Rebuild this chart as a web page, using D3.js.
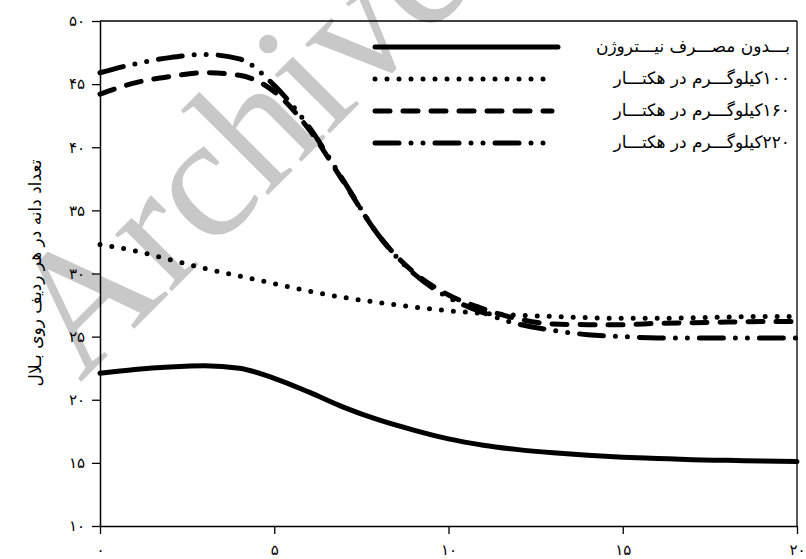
<!DOCTYPE html>
<html>
<head>
<meta charset="utf-8">
<script src="https://cdn.jsdelivr.net/npm/d3@7"></script>
<style>
  html, body { margin: 0; padding: 0; background: #fff; }
  svg { display: block; }
</style>
</head>
<body>
<svg id="chart" width="806" height="559"></svg>
<script>
// ---- data ----
const xValues = [0,1,2,3,4,5,6,7,8,9,10,11,12,13,14,15,16,17,18,19,20];
const seriesNames = [
  "بـــدون مصـــرف نيـــتروژن",
  "۱۰۰کیلوگـــرم در هکتـــار",
  "۱۶۰کیلوگـــرم در هکتـــار",
  "۲۲۰کیلوگـــرم در هکتـــار"
];
const noNitrogen = [22.1,22.4,22.6,22.7,22.5,21.7,20.6,19.4,18.4,17.6,16.9,16.4,16.05,15.8,15.6,15.45,15.35,15.25,15.2,15.15,15.1];
const n100 = [32.3,31.8,31.1,30.4,29.8,29.2,28.6,28.1,27.7,27.35,27.05,26.85,26.7,26.6,26.5,26.45,26.45,26.5,26.55,26.6,26.6];
const n160 = [44.2,45.1,45.6,45.9,45.7,44.4,41.4,37.2,33.0,30.1,28.3,27.2,26.4,26.0,25.95,25.95,26.05,26.1,26.15,26.2,26.2];
const n220 = [45.9,46.6,47.1,47.35,47.0,44.9,41.6,37.3,33.0,30.0,28.1,26.9,26.0,25.5,25.15,25.0,24.9,24.9,24.9,24.9,24.9];
const xTicks = [0,5,10,15,20];
const xTickLabels = ["۰","۵","۱۰","۱۵","۲۰"];
const yTicks = [10,15,20,25,30,35,40,45,50];
const yTickLabels = ["۱۰","۱۵","۲۰","۲۵","۳۰","۳۵","۴۰","۴۵","۵۰"];
const yTitle = "تعداد دانه در هر ردیف روی بـلال";
const watermark = "Archive";

// ---- layout ----
const svg = d3.select("#chart");
const plotLeft = 100, plotRight = 797, plotTop = 21, plotBottom = 526;
const x = d3.scaleLinear().domain([0, 20]).range([plotLeft, plotRight]);
const y = d3.scaleLinear().domain([10, 50]).range([plotBottom, plotTop]);
const persianFont = "'DejaVu Sans', 'Noto Sans', sans-serif";

// watermark (behind everything)
svg.append("text")
  .attr("transform", "translate(80,383) rotate(-45)")
  .attr("font-family", "'Liberation Serif', 'Times New Roman', serif")
  .attr("font-size", 175)
  .attr("fill", "#c8c8c8")
  .text(watermark);

// frame
svg.append("line").attr("x1", plotLeft).attr("x2", plotRight).attr("y1", plotTop).attr("y2", plotTop)
  .attr("stroke", "#000").attr("stroke-width", 1.3);
svg.append("line").attr("x1", plotRight).attr("x2", plotRight).attr("y1", plotTop).attr("y2", plotBottom)
  .attr("stroke", "#000").attr("stroke-width", 1.3);

// axes
const xAxis = d3.axisBottom(x).tickValues(xTicks).tickSize(8).tickSizeOuter(0)
  .tickFormat((d, i) => xTickLabels[i]);
const yAxis = d3.axisLeft(y).tickValues(yTicks).tickSize(8).tickSizeOuter(0)
  .tickFormat((d, i) => yTickLabels[i]);

const gx = svg.append("g").attr("transform", `translate(0,${plotBottom})`).call(xAxis);
const gy = svg.append("g").attr("transform", `translate(${plotLeft},0)`).call(yAxis);
[gx, gy].forEach(g => {
  g.select(".domain").attr("stroke", "#000").attr("stroke-width", 1.5);
  g.selectAll(".tick line").attr("stroke", "#000").attr("stroke-width", 1.3);
  g.selectAll(".tick text").attr("font-family", persianFont).attr("font-size", 15).attr("fill", "#000");
});
gx.selectAll(".tick text").attr("dy", "1.2em");
gy.selectAll(".tick text").attr("x", -15);

// y title
svg.append("text")
  .attr("transform", "translate(36,273) rotate(-90)")
  .attr("text-anchor", "middle")
  .attr("dominant-baseline", "middle")
  .attr("font-family", persianFont)
  .attr("font-size", 17)
  .attr("fill", "#000")
  .text(yTitle);

// series
const styles = [
  { dash: null },
  { dash: "0 12" },
  { dash: "15 13" },
  { dash: "24 12 0 12 0 12" }
];
const allSeries = [noNitrogen, n100, n160, n220];
const line = d3.line().x((d, i) => x(xValues[i])).y(d => y(d)).curve(d3.curveMonotoneX);

allSeries.forEach((s, k) => {
  const p = svg.append("path")
    .datum(s)
    .attr("d", line)
    .attr("fill", "none")
    .attr("stroke", "#000")
    .attr("stroke-width", 5)
    .attr("stroke-linecap", "round")
    .attr("stroke-linejoin", "round");
  if (styles[k].dash) p.attr("stroke-dasharray", styles[k].dash);
});

// legend
const legendY = [47, 79, 111, 143];
seriesNames.forEach((name, k) => {
  const ly = legendY[k];
  const l = svg.append("line")
    .attr("x1", 375).attr("x2", k === 0 ? 558 : 552)
    .attr("y1", ly).attr("y2", ly)
    .attr("stroke", "#000").attr("stroke-width", 5)
    .attr("stroke-linecap", "round");
  if (styles[k].dash) l.attr("stroke-dasharray", styles[k].dash);
  svg.append("text")
    .attr("x", 790).attr("y", ly)
    .attr("direction", "rtl")
    .style("direction", "rtl")
    .attr("text-anchor", "start")
    .attr("dominant-baseline", "middle")
    .attr("font-family", persianFont)
    .attr("font-size", 17)
    .attr("fill", "#000")
    .text(name);
});
</script>
</body>
</html>
